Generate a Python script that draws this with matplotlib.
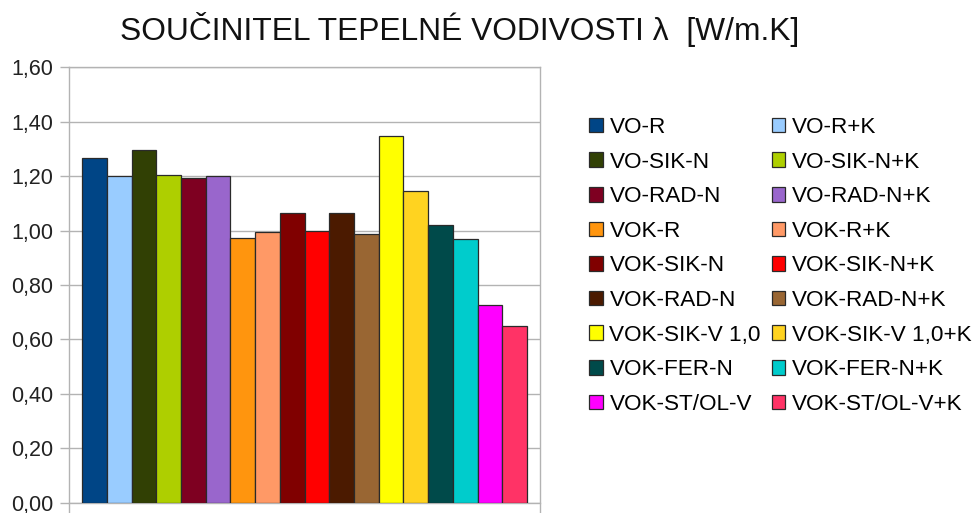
import matplotlib.pyplot as plt
from matplotlib.ticker import MultipleLocator, FuncFormatter

plt.rcParams["font.family"] = ["Liberation Sans", "DejaVu Sans"]

labels = ["VO-R", "VO-R+K", "VO-SIK-N", "VO-SIK-N+K", "VO-RAD-N", "VO-RAD-N+K",
          "VOK-R", "VOK-R+K", "VOK-SIK-N", "VOK-SIK-N+K", "VOK-RAD-N", "VOK-RAD-N+K",
          "VOK-SIK-V 1,0", "VOK-SIK-V 1,0+K", "VOK-FER-N", "VOK-FER-N+K",
          "VOK-ST/OL-V", "VOK-ST/OL-V+K"]
values = [1.266, 1.200, 1.296, 1.204, 1.193, 1.200,
          0.971, 0.995, 1.063, 0.997, 1.063, 0.986,
          1.347, 1.146, 1.022, 0.969, 0.726, 0.651]
colors = ["#004586", "#99ccff", "#314004", "#aecf00", "#7e0021", "#9966cc",
          "#ff950e", "#ff9966", "#800000", "#ff0000", "#4b1a00", "#996633",
          "#ffff00", "#ffd320", "#004a4a", "#00cccc", "#ff00ff", "#ff3366"]

fig = plt.figure(figsize=(9.78, 5.13), dpi=100)
ax = fig.add_axes([0.0706, 0.0201, 0.4817, 0.8487])

bars = []
for i, (lab, val, col) in enumerate(zip(labels, values, colors)):
    b = ax.bar(i, val, width=1.0, color=col, edgecolor="#2a2a2a", linewidth=0.9,
               label=lab, zorder=3)
    bars.append(b)

ax.set_xlim(-1.03, 18.03)
ax.set_ylim(0, 1.6)
ax.yaxis.set_major_locator(MultipleLocator(0.2))
ax.yaxis.set_major_formatter(FuncFormatter(lambda v, p: f"{v:.2f}".replace(".", ",")))
ax.set_xticks([])
ax.grid(axis="y", color="#b3b3b3", linewidth=1.0, zorder=0)
ax.tick_params(axis="y", length=6.5, width=1.0, color="#b3b3b3", pad=5,
               labelsize=15.5, labelcolor="#222222")
for side in ["left", "right", "top", "bottom"]:
    ax.spines[side].set_color("#b3b3b3")
    ax.spines[side].set_linewidth(1.0)
    ax.spines[side].set_zorder(1)
# side frame lines run a little below zero
ax.spines["left"].set_bounds(-0.04, 1.6)
ax.spines["right"].set_bounds(-0.04, 1.6)
ax.set_ylim(0, 1.6)
for s in ["left", "right"]:
    ax.spines[s].set_clip_on(False)

fig.text(0.47, 0.942, "SOUČINITEL TEPELNÉ VODIVOSTI λ  [W/m.K]", ha="center",
         va="center", fontsize=22.9, color="#111111")

# legend laid out row by row: left column even entries, right column odd
order = list(range(0, 18, 2)) + list(range(1, 18, 2))
fig.legend([bars[i] for i in order], [labels[i] for i in order], ncol=2,
           loc="upper left", bbox_to_anchor=(0.602, 0.772), frameon=False,
           fontsize=16.2, handlelength=0.62, handleheight=0.62,
           handletextpad=0.3, columnspacing=0.47, labelspacing=0.605,
           borderpad=0, borderaxespad=0)

fig.savefig("out.png", dpi=100)
